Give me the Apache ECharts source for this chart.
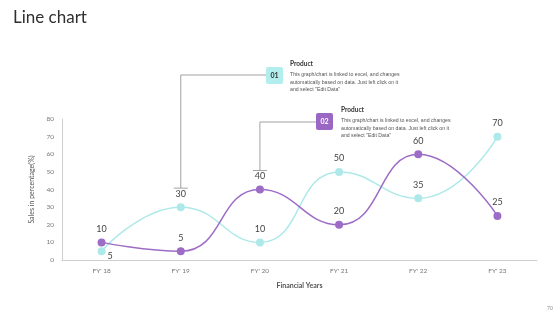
<!DOCTYPE html>
<html><head><meta charset="utf-8">
<script src="https://cdn.jsdelivr.net/npm/echarts@6/dist/echarts.min.js"></script>
<style>html,body{margin:0;padding:0;background:#fff}#c{width:560px;height:315px}</style>
</head><body><div id="c"></div>
<script>
const categories = ["FY' 18","FY' 19","FY' 20","FY' 21","FY' 22","FY' 23"];
const seriesTeal = [5,30,10,50,35,70];
const seriesPurple = [10,5,40,20,60,25];
const yTicks = [0,10,20,30,40,50,60,70,80];
const tealColor = '#aee9ea';
const purpleColor = '#9d6cc6';

const chart = echarts.init(document.getElementById('c'));
const font = 'Lato, "Noto Sans", sans-serif';
function labels(arr, special){
  return arr.map((v,i)=>{
    const o={value:v};
    if(special && special[i]) o.label=special[i];
    return o;
  });
}
const opt = {
  animation:false,
  grid:{left:62,right:23,top:119,bottom:55},
  xAxis:{type:'category',data:categories,boundaryGap:true,
    axisLine:{lineStyle:{color:'#cfcfcf'}},axisTick:{show:false},
    axisLabel:{color:'#777',fontSize:6.5,margin:7,fontFamily:font},
    name:'Financial Years',nameLocation:'middle',nameGap:22,
    nameTextStyle:{color:'#555',fontSize:7,fontWeight:'bold',fontFamily:font}},
  yAxis:{type:'value',min:0,max:80,interval:10,
    axisLine:{show:true,lineStyle:{color:'#cfcfcf'}},axisTick:{show:false},splitLine:{show:false},
    axisLabel:{color:'#777',fontSize:6.5,margin:8,fontFamily:font},
    name:'Sales in percentage(%)',nameLocation:'middle',nameGap:22,nameRotate:90,
    nameTextStyle:{color:'#555',fontSize:7,fontFamily:font}},
  series:[
    {type:'line',smooth:0.5,data:labels(seriesTeal,{0:{position:'right',offset:[-3,5]}}),symbol:'circle',symbolSize:8,
     lineStyle:{color:tealColor,width:1.5},itemStyle:{color:tealColor},
     label:{show:true,position:'top',color:'#444',fontSize:9,distance:5,fontFamily:font}},
    {type:'line',smooth:0.5,data:labels(seriesPurple),symbol:'circle',symbolSize:8,
     lineStyle:{color:purpleColor,width:1.5},itemStyle:{color:purpleColor},
     label:{show:true,position:'top',color:'#444',fontSize:9,distance:5,fontFamily:font}}
  ]
};
chart.setOption(opt);

const x1 = chart.convertToPixel({xAxisIndex:0},1);
const x2 = chart.convertToPixel({xAxisIndex:0},2);
const y1 = chart.convertToPixel({yAxisIndex:0},seriesTeal[1]) - 19;
const y2 = chart.convertToPixel({yAxisIndex:0},seriesPurple[2]) - 19;
const lc = '#8a8a8a';
const desc = 'This graph/chart is linked to excel, and changes\nautomatically based on data. Just left click on it\nand select "Edit Data"';
chart.setOption({graphic:[
  {type:'text',left:13,top:9,style:{text:'Line chart',fontSize:17,fill:'#2f2f2f',fontFamily:font}},
  {type:'polyline',shape:{points:[[x1,y1],[x1,75],[266,75]]},style:{stroke:lc,lineWidth:0.8,fill:null}},
  {type:'line',shape:{x1:x1-7,y1:y1,x2:x1+7,y2:y1},style:{stroke:lc,lineWidth:0.8}},
  {type:'rect',shape:{x:266,y:67,width:17,height:17,r:2},style:{fill:'#b3eeee'}},
  {type:'text',x:274.5,y:75.5,style:{text:'01',fontSize:7,fontWeight:'bold',fill:'#333',align:'center',verticalAlign:'middle',fontFamily:font}},
  {type:'text',x:290,y:60,style:{text:'Product',fontSize:6.5,fontWeight:'bold',fill:'#333',fontFamily:font}},
  {type:'text',x:290,y:71,style:{text:desc,fontSize:5.2,lineHeight:7.5,fill:'#555',fontFamily:'Arial, "Liberation Sans", sans-serif'}},
  {type:'polyline',shape:{points:[[x2,y2],[x2,122],[316,122]]},style:{stroke:lc,lineWidth:0.8,fill:null}},
  {type:'line',shape:{x1:x2-7,y1:y2,x2:x2+7,y2:y2},style:{stroke:lc,lineWidth:0.8}},
  {type:'rect',shape:{x:316,y:113,width:17,height:17,r:2},style:{fill:'#9b67c4'}},
  {type:'text',x:324.5,y:121.5,style:{text:'02',fontSize:7,fontWeight:'bold',fill:'#fff',align:'center',verticalAlign:'middle',fontFamily:font}},
  {type:'text',x:341,y:106,style:{text:'Product',fontSize:6.5,fontWeight:'bold',fill:'#333',fontFamily:font}},
  {type:'text',x:341,y:117,style:{text:desc,fontSize:5.2,lineHeight:7.5,fill:'#555',fontFamily:'Arial, "Liberation Sans", sans-serif'}},
  {type:'text',x:547,y:306,style:{text:'70',fontSize:5,fill:'#888',fontFamily:font}}
]});
</script></body></html>
